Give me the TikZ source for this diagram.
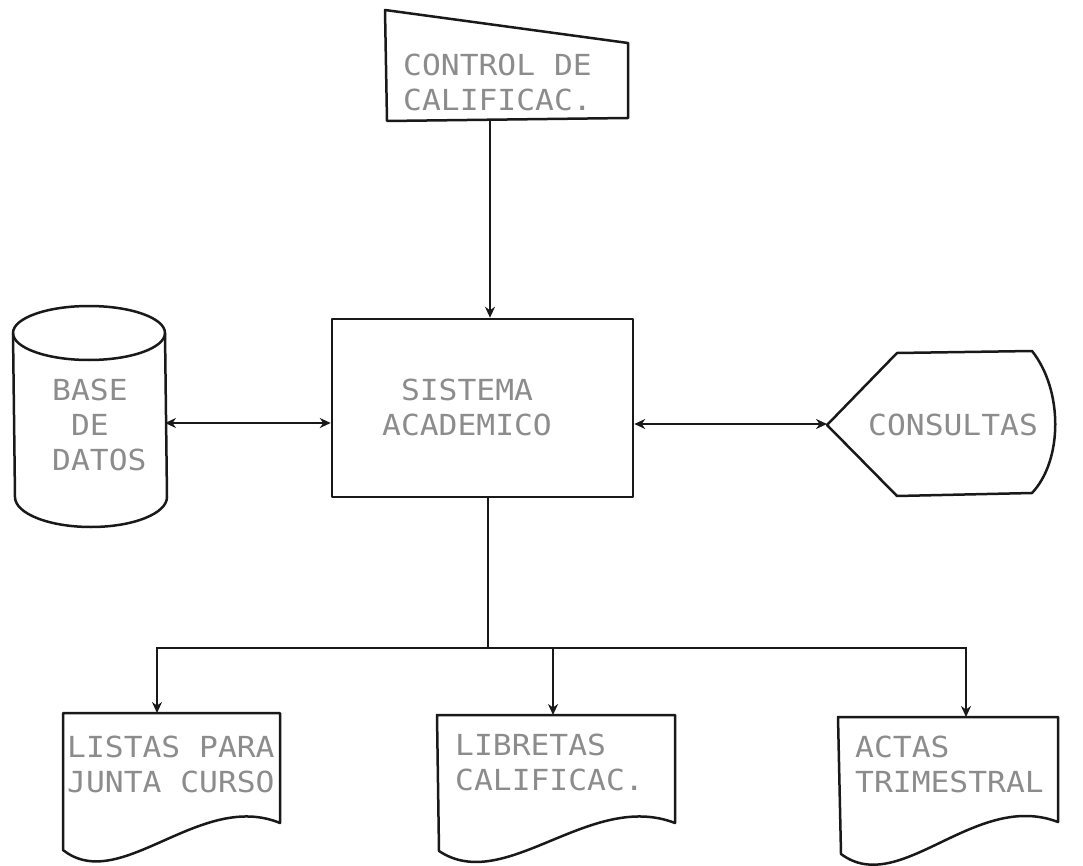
\documentclass[tikz,border=0pt]{standalone}
\usepackage{fontspec}
\newfontfamily\plotfont[FakeStretch=1.08]{DejaVu Sans Mono}
\usetikzlibrary{arrows.meta}
\begin{document}
\begin{tikzpicture}[x=1pt,y=-1pt,
  >={Stealth[length=11pt,width=10pt]},
  outline/.style={draw=black!90, line width=2.5pt, line join=round},
  conn/.style={draw=black!90, line width=2.3pt},
  ptext/.style={font=\plotfont\fontsize{29}{35}\selectfont, text=black!45, inner sep=0pt, align=left, anchor=north west}]
\useasboundingbox (0,0) rectangle (1083,866);

% manual input: CONTROL DE CALIFICAC.
\draw[outline] (385,10) -- (628,43) -- (628,118) -- (387,121) -- cycle;
\node[ptext] (ctrl) at (403,54) {CONTROL DE\\CALIFICAC.};
\coordinate (ctrlb) at (490,120);

% main process
\node[outline, minimum width=301pt, minimum height=178pt, inner sep=0pt] (main) at (482.5,408) {};
\node[ptext, align=center, anchor=north] (maintext) at (467,379) {SISTEMA\\ACADEMICO};

% database cylinder
\draw[outline] (89,333) ellipse[x radius=76, y radius=27];
\draw[outline] (13,333) -- (15,497) arc[start angle=180, end angle=0, x radius=76, y radius=30] -- (165,333);
\node[ptext] (db) at (52,379) {BASE\\\hphantom{B}DE\\DATOS};
\coordinate (dbr) at (165,423);

% display: CONSULTAS
\draw[outline] (827,425) -- (897,353) -- (1032,351) .. controls (1063,390) and (1063,460) .. (1032,493) -- (897,496) -- cycle;
\node[ptext] (cons) at (868,414) {CONSULTAS};
\coordinate (consl) at (827,424);

% documents
\draw[outline] (63,850) -- (63,713) -- (280,713) -- (280,823) .. controls (200,790) and (120,895) .. (63,850) -- cycle;
\node[ptext] (doc1) at (67,736) {LISTAS PARA\\JUNTA CURSO};
\coordinate (d1) at (157,713);

\draw[outline] (439,851) -- (437,715) -- (675,715) -- (675,823) .. controls (590,790) and (505,895) .. (439,851) -- cycle;
\node[ptext] (doc2) at (455,734) {LIBRETAS\\CALIFICAC.};
\coordinate (d2) at (553,715);

\draw[outline] (841,854) -- (838,717) -- (1058,717) -- (1058,822) .. controls (975,790) and (900,898) .. (841,854) -- cycle;
\node[ptext] (doc3) at (855,736) {ACTAS\\TRIMESTRAL};
\coordinate (d3) at (966,717);

% connectors
\draw[conn, ->] (ctrlb) -- (ctrlb |- main.north);
\draw[conn, <->] (dbr) -- (main.west |- dbr);
\draw[conn, <->] (main.east |- consl) -- (consl);
\coordinate (j) at (488,648);
\draw[conn] (main.south -| j) -- (j);
\draw[conn, ->] (j) -| (d1);
\draw[conn, ->] (j) -| (d3);
\draw[conn, ->] (j -| d2) -- (d2);
\end{tikzpicture}
\end{document}
